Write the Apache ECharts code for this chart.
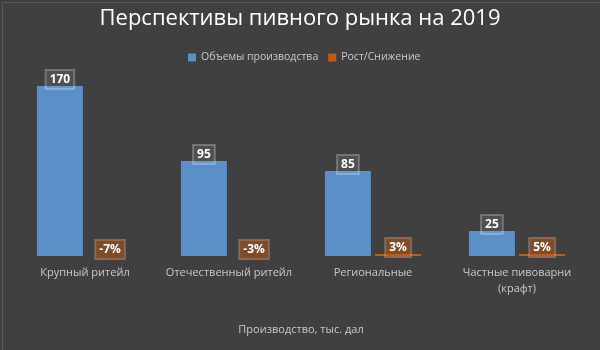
<!DOCTYPE html>
<html><head><meta charset="utf-8">
<script src="https://cdn.jsdelivr.net/npm/echarts@6/dist/echarts.min.js"></script>
<style>html,body{margin:0;padding:0;background:#404040}#c{width:600px;height:350px}</style>
</head><body><div id="c"></div>
<script>
const categories = ['Крупный ритейл', 'Отечественный ритейл', 'Региональные', 'Частные пивоварни\n(крафт)'];
const volumes = [170, 95, 85, 25];
const growth = [-0.07, -0.03, 0.03, 0.05];
const seriesNames = ['Объемы производства', 'Рост/Снижение'];
const titleText = 'Перспективы пивного рынка на 2019';
const axisName = 'Производство, тыс. дал';

const font = '"Open Sans", "Noto Sans", sans-serif';
const chart = echarts.init(document.getElementById('c'), null, {renderer: 'canvas'});
chart.setOption({
  backgroundColor: '#404040',
  animation: false,
  textStyle: {fontFamily: font},
  title: {
    text: titleText, left: 'center', top: 3,
    textStyle: {color: '#ffffff', fontSize: 22, fontWeight: 'normal', fontFamily: font}
  },
  legend: {
    top: 47, left: 183, itemWidth: 8, itemHeight: 8, itemGap: 10,
    icon: 'rect',
    textStyle: {color: '#c8c8c8', fontSize: 10.5, fontFamily: font},
    data: seriesNames
  },
  graphic: [{
    type: 'rect', left: 0, top: 0, silent: true,
    shape: {x: 0.5, y: 0.5, width: 598, height: 348},
    style: {fill: 'none', stroke: '#5a5a5a', lineWidth: 1}
  }],
  grid: {left: 13, right: 11, top: 76, bottom: 94, containLabel: false},
  xAxis: {
    type: 'category', data: categories,
    axisLine: {show: false}, axisTick: {show: false},
    axisLabel: {color: '#c8c8c8', fontSize: 11, margin: 9, lineHeight: 16, fontFamily: font, interval: 0},
    name: axisName, nameLocation: 'middle', nameGap: 68,
    nameTextStyle: {color: '#c8c8c8', fontSize: 11, fontFamily: font}
  },
  yAxis: {
    type: 'value', min: 0, max: 180, show: false
  },
  series: [{
    name: seriesNames[0], type: 'bar', data: volumes,
    barWidth: 46, barGap: '9%',
    itemStyle: {color: '#5b8fc7'},
    label: {
      show: true, position: 'top', distance: -3,
      color: '#ffffff', fontWeight: 'bold', fontSize: 12, fontFamily: font,
      backgroundColor: 'rgba(255,255,255,0.08)',
      borderColor: 'rgba(255,255,255,0.25)', borderWidth: 1,
      padding: [4, 4, 3, 4]
    }
  }, {
    name: seriesNames[1], type: 'bar', data: growth,
    barWidth: 46, barMinHeight: 2,
    itemStyle: {color: '#c55a11'},
    label: {
      show: true, position: 'top', distance: -3,
      formatter: p => Math.round(p.value * 100) + '%',
      color: '#ffffff', fontWeight: 'bold', fontSize: 12, fontFamily: font,
      backgroundColor: 'rgba(197,90,17,0.45)',
      borderColor: 'rgba(255,255,255,0.25)', borderWidth: 1,
      padding: [4, 4, 3, 4]
    }
  }]
});
</script></body></html>
